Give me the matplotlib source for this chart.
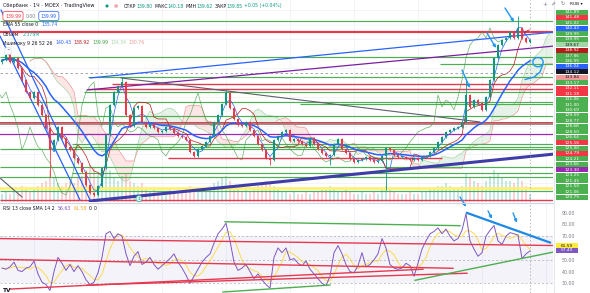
import matplotlib
matplotlib.use("Agg")
import matplotlib.pyplot as plt
from matplotlib.patches import Rectangle, Ellipse
import numpy as np
import pandas as pd

plt.rcParams['font.family'] = ['DejaVu Sans']

W, H = 590, 293

# hourly closes (one bar ~ 4 px)
closes = [136.38, 137.25, 136.03, 136.72, 134.99, 132.90, 130.82, 129.78, 130.82, 128.56,
          126.83, 124.57, 120.75, 122.49, 124.75, 122.84, 121.27, 120.75, 119.36, 118.49,
          116.93, 114.68, 113.29, 112.94, 114.50, 117.63, 123.36, 128.56, 130.82, 131.86,
          132.56, 126.83, 124.92, 128.04, 128.39, 125.61, 124.75, 125.27, 124.57, 123.88,
          124.05, 124.75, 124.40, 123.70, 123.18, 123.01, 122.49, 120.41, 119.71, 120.93,
          121.45, 122.14, 123.18, 125.61, 126.83, 128.74, 130.65, 128.04, 126.13, 125.09,
          124.92, 125.61, 124.22, 123.18, 121.79, 120.75, 119.36, 119.02, 122.49, 123.18,
          123.88, 124.22, 122.32, 122.66, 122.32, 121.79, 121.45, 122.84, 121.79, 120.93,
          120.23, 119.71, 119.88, 121.79, 122.66, 120.93, 120.23, 119.19, 118.67, 119.02,
          119.19, 119.54, 119.02, 118.67, 118.84, 119.71, 121.10, 120.75, 119.88, 119.54,
          119.54, 119.36, 119.02, 119.36, 119.02, 119.54, 119.71, 120.41, 121.10, 122.14,
          123.01, 123.88, 124.22, 124.57, 124.75, 125.61, 130.30, 128.22, 129.43, 128.91,
          127.70, 129.95, 132.90, 136.72, 138.98, 139.85, 140.20, 141.24, 140.20, 141.93,
          140.20, 139.50, 139.85]
volumes = [3, 4, 3, 5, 4, 6, 5, 4, 5, 6,
           7, 8, 12, 9, 7, 6, 7, 8, 7, 9,
           10, 12, 14, 13, 11, 12, 15, 12, 9, 8,
           10, 11, 8, 7, 6, 7, 5, 4, 5, 4,
           3, 4, 5, 4, 3, 4, 5, 6, 5, 4,
           4, 5, 6, 7, 8, 9, 10, 8, 6, 5,
           4, 5, 4, 5, 6, 7, 8, 7, 6, 5,
           4, 4, 3, 4, 3, 3, 4, 3, 4, 4,
           5, 5, 6, 5, 4, 4, 5, 4, 3, 3,
           4, 3, 3, 4, 3, 5, 6, 5, 4, 3,
           3, 3, 4, 3, 3, 4, 4, 5, 5, 6,
           6, 7, 6, 5, 5, 6, 11, 9, 8, 7,
           6, 8, 10, 12, 11, 9, 8, 8, 7, 9,
           8, 6, 3]
rsi_values = [43, 42, 44, 48, 41, 40, 43, 44, 49, 38,
              31, 29, 24, 40, 52, 47, 41, 46, 40, 45,
              40, 33, 29, 31, 39, 52, 72, 74, 68, 72,
              70, 55, 45, 53, 57, 46, 48, 52, 46, 42,
              45, 48, 51, 55, 48, 43, 37, 30, 36, 42,
              48, 52, 55, 64, 72, 76, 81, 66, 48, 41,
              43, 46, 40, 34, 38, 33, 29, 26, 52, 60,
              56, 60, 50, 51, 47, 45, 49, 42, 38, 34,
              30, 28, 36, 56, 62, 55, 46, 40, 39, 45,
              56, 44, 46, 50, 55, 68, 60, 46, 43, 42,
              43, 47, 45, 36, 47, 59, 66, 72, 74, 77,
              72, 76, 70, 66, 68, 75, 89, 66, 59, 53,
              56, 70, 75, 79, 66, 63, 70, 73, 72, 71,
              51, 55, 57.5]
# long wicks: bar -> (high, low)
wick_spikes = {12: (None, 116.0), 30: (133.4, None), 56: (131.2, None), 67: (None, 118.2),
               82: (None, 118.1), 96: (None, 113.8), 116: (132.9, None), 129: (144.0, None)}

# horizontal levels drawn on the chart
green_levels = [143.20, 136.90, 135.68, 133.48, 130.82, 129.14, 128.69, 126.71, 121.74,
                121.33, 120.98, 117.85, 116.81, 116.12, 113.64]
green_from = [0, 0, 110, 22, 21, 0, 75, 0, 18, 18, 0, 0, 18, 0, 0]
red_levels = [141.24, 132.16, 131.29, 125.49, 119.42, 112.07]
red_from = [0, 28, 22, 0, 42, 0]
red_to = [138, 138, 138, 138, 110, 138]
red_widths = [1.6, 1.0, 1.0, 1.4, 1.0, 1.0]
brown_level = 125.18
purple_level = 123.48
yellow_level = 114.07
cross_price = 134.12
cross_bar = 132

# trend lines (bar, price) -> (bar, price)
main_lines = [((22, 133.25), (138.25, 141.24), '#2962FF', 0.9),
              ((21.25, 131.17), (138.25, 138.81), '#7B1FA2', 0.9),
              ((29.75, 133.25), (119.5, 125.61), '#5D606B', 0.8),
              ((22, 111.90), (138.25, 120.06), '#3F3DA8', 2.2),
              ((-0.5, 140.54), (19.5, 112.07), '#2962FF', 0.9),
              ((-0.25, 145.06), (22, 112.07), '#2962FF', 0.9),
              ((-0.5, 115.89), (5, 112.59), '#5D606B', 0.8)]
main_arrows = [((115, 134.64), (117, 131.51)),
               ((121.25, 141.06), (123.5, 138.46)),
               ((125.75, 145.4), (128, 142.97))]
rsi_lines = [((-0.5, 67.95), (137.75, 62.1), '#E53950', 1.0),
             ((-0.5, 50.35), (112.75, 42.8), '#E53950', 1.0),
             ((2, 25.2), (105.25, 42.0), '#E53950', 1.0),
             ((21.25, 28.55), (116.25, 38.6), '#E53950', 1.0),
             ((55.75, 82.2), (114.5, 78.9), '#4CAF50', 1.0),
             ((55.25, 22.7), (82, 28.6), '#4CAF50', 1.0),
             ((103.25, 32.6), (139.5, 57.7), '#4CAF50', 1.0),
             ((116.25, 89.7), (137, 64.6), '#1E88E5', 1.6)]
rsi_arrows = [((114.5, 103.2), (116, 94.8)),
              ((121.5, 91.4), (122.5, 84.7)),
              ((127.75, 89.7), (128.75, 81.4))]

# right price scale tags
price_tags = ["141.89", "141.48", "141.02", "140.43", "139.99", "139.99", "139.67", "138.92",
              "137.86", "136.99", "136.04", "134.12", "133.84", "133.17", "132.11", "131.18",
              "131.06", "131.00", "130.69", "129.59", "128.77", "128.68", "128.50", "126.64",
              "125.16", "125.00", "124.79", "124.21", "123.66", "123.30", "123.25", "121.45",
              "121.50", "121.06", "120.79"]
G, R, B, LG, DR, K, P, PR = '#4CAF50', '#F23645', '#2962FF', '#A5D6A7', '#B71C1C', '#131722', '#9C27B0', '#EF9A9A'
tag_colors = [G, R, G, B, G, G, LG, DR, G, G, B, K, PR, G, R, R, G, G, G, G, G, G, G, G,
              R, G, R, G, G, P, G, G, G, G, G]

UP, DOWN = '#089981', '#F23645'
DARK, GRAY = '#131722', '#787B86'

n = len(closes)
idx = np.arange(n)
c = np.array(closes)
o = np.r_[c[0] - 0.4, c[:-1]]
hi = np.maximum(o, c) + 0.25
lo = np.minimum(o, c) - 0.25
for k, (h_, l_) in wick_spikes.items():
    if h_ is not None:
        hi[k] = h_
    if l_ is not None:
        lo[k] = l_
up = c >= o
cols = np.where(up, UP, DOWN)

fig = plt.figure(figsize=(W / 100, H / 100), dpi=100)
fig.patch.set_facecolor('white')

pane_split = 202
ax = fig.add_axes([0, (H - pane_split) / H, 553 / W, pane_split / H])
axr = fig.add_axes([0, 0, 553 / W, (H - pane_split - 1) / H])

XMIN, XMAX = -0.5, 137.75
YMIN, YMAX = 111.72, 146.79
for a in (ax, axr):
    a.set_xlim(XMIN, XMAX)
    a.set_xticks([])
    for s in a.spines.values():
        s.set_visible(False)
ax.set_ylim(YMIN, YMAX)
ax.set_yticks([])

# grid
for gx in np.arange(8, 138, 16):
    ax.axvline(gx, color='#F0F3FA', lw=0.6, zorder=0)
    axr.axvline(gx, color='#F0F3FA', lw=0.6, zorder=0)
for gy in [115, 120, 125, 130, 135, 140, 145]:
    ax.axhline(gy, color='#F0F3FA', lw=0.6, zorder=0)

# volume at the bottom of the price pane
vol_scale = 6.9 / max(volumes)
ax.bar(idx, np.array(volumes) * vol_scale, bottom=YMIN, width=0.6,
       color=np.where(up, '#9ED8CF', '#F7B3B9'), alpha=0.6, zorder=1)

# ichimoku (periods scaled to the coarse bars)
hs, ls, cs = pd.Series(hi), pd.Series(lo), pd.Series(c)
tenkan = (hs.rolling(2, min_periods=1).max() + ls.rolling(2, min_periods=1).min()) / 2
kijun = (hs.rolling(7, min_periods=1).max() + ls.rolling(7, min_periods=1).min()) / 2
span_a = ((tenkan + kijun) / 2).values
span_b = ((hs.rolling(13, min_periods=1).max() + ls.rolling(13, min_periods=1).min()) / 2).values
shift = 7
xs = idx + shift
ax.fill_between(xs, span_a, span_b, where=span_a >= span_b, color='#43A047', alpha=0.13,
                lw=0, interpolate=True, zorder=1)
ax.fill_between(xs, span_a, span_b, where=span_a < span_b, color='#F44336', alpha=0.13,
                lw=0, interpolate=True, zorder=1)
ax.plot(xs, span_a, color='#A5D6A7', lw=0.5, zorder=2)
ax.plot(xs, span_b, color='#EF9A9A', lw=0.5, zorder=2)
ax.plot(idx, tenkan, color='#2962FF', lw=0.5, zorder=3)
ax.plot(idx, kijun, color='#B71C1C', lw=0.5, zorder=3)
ax.plot(idx - shift, c, color='#43A047', lw=0.5, alpha=0.8, zorder=3)

# ema 55 (scaled)
ema = cs.ewm(span=16, adjust=False).mean()
ax.plot(idx, ema, color='#2962FF', lw=1.1, zorder=4)

# levels
for p, x0 in zip(green_levels, green_from):
    ax.hlines(p, x0 - 0.5, XMAX, color='#4CAF50', lw=0.85, zorder=2)
for p, x0, x1, lw in zip(red_levels, red_from, red_to, red_widths):
    ax.hlines(p, x0 - 0.5, x1, color='#E53950', lw=lw, zorder=2)
ax.axhline(brown_level, color='#A1887F', lw=1.4, zorder=2)
ax.axhline(purple_level, color='#9C27B0', lw=0.9, zorder=2)
ax.axhline(yellow_level, color='#FFF176', lw=2.0, zorder=2)
ax.axhline(cross_price, color='#9598A1', lw=0.6, ls=(0, (3, 3)), zorder=5)

# trend lines
for (x0, y0), (x1, y1), col, lw in main_lines:
    ax.plot([x0, x1], [y0, y1], color=col, lw=lw, zorder=5, solid_capstyle='round')

# candles
ax.vlines(idx, lo, hi, colors=cols, lw=0.6, zorder=6)
body = np.maximum(np.abs(c - o), 0.08)
ax.bar(idx, body, bottom=np.minimum(o, c), width=0.62, color=cols, zorder=6)

for (x0, y0), (x1, y1) in main_arrows:
    ax.annotate('', xy=(x1, y1), xytext=(x0, y0),
                arrowprops=dict(arrowstyle='-|>', color='#2196F3', lw=1.0,
                                mutation_scale=4, shrinkA=0, shrinkB=0), zorder=7)

# hand drawn loop near the last bars
ax.add_patch(Ellipse((134.0, 136.0), 2.6, 1.6, fill=False, ec='#2196F3', lw=1.0, zorder=7))
ax.plot([135.2, 134.5, 133.0, 130.8], [135.6, 134.3, 133.4, 133.0], color='#2196F3', lw=1.0, zorder=7)

# event marker
ax.text(34.25, 112.3, '1', fontsize=3.2, color='#00897B', ha='center', va='center', zorder=8,
        bbox=dict(boxstyle='circle,pad=0.25', fc='#E0F2F1', ec='#26A69A', lw=0.5))

ax.axvline(cross_bar, color='#9598A1', lw=0.5, ls=(0, (2, 3)), zorder=5)

# RSI pane
RV_MIN, RV_MAX = 21.85, 98.1
axr.set_ylim(RV_MIN, RV_MAX)
axr.axhspan(30, 70, color='#7E57C2', alpha=0.07, lw=0)
for lvl in (70, 50, 30):
    axr.axhline(lvl, color=GRAY, lw=0.5, ls=(0, (3, 3)), alpha=0.6)
rsi = pd.Series(rsi_values)
axr.plot(idx, rsi.rolling(4, min_periods=1).mean(), color='#FDD835', lw=0.6, zorder=3)
axr.plot(idx, rsi, color='#7E57C2', lw=0.7, zorder=4)
for (x0, y0), (x1, y1), col, lw in rsi_lines:
    axr.plot([x0, x1], [y0, y1], color=col, lw=lw, zorder=5)
for (x0, y0), (x1, y1) in rsi_arrows:
    axr.annotate('', xy=(x1, y1), xytext=(x0, y0), annotation_clip=False,
                 arrowprops=dict(arrowstyle='-|>', color='#2196F3', lw=1.0,
                                 mutation_scale=4, shrinkA=0, shrinkB=0))
axr.axvline(cross_bar, color='#9598A1', lw=0.5, ls=(0, (2, 3)))
axr.yaxis.tick_right()
axr.set_yticks([30, 40, 50, 70, 80, 90])
axr.set_yticklabels(['30.00', '40.00', '50.00', '70.00', '80.00', '90.00'])
axr.tick_params(axis='y', length=0, pad=6, labelsize=3.4, labelcolor=GRAY)

# overlay in pixel units for chrome and legends
ov = fig.add_axes([0, 0, 1, 1])
ov.set_xlim(0, W)
ov.set_ylim(H, 0)
ov.axis('off')
ov.patch.set_visible(False)
ov.plot([0, 553], [pane_split + 0.5, pane_split + 0.5], color='#D1D4DC', lw=0.8)
ov.plot([553.5, 553.5], [0, H], color='#E0E3EB', lw=0.6)

gap_y = (197 - 12) / (len(price_tags) - 1)
for k, (t, col) in enumerate(zip(price_tags, tag_colors)):
    yc = 12 + k * gap_y
    ov.add_patch(Rectangle((556, yc - 2.5), 32, 5, fc=col, ec='none'))
    tc = DARK if col in (LG, PR) else 'white'
    ov.text(572, yc, t, fontsize=3.1, color=tc, ha='center', va='center')

for v, txt, fc, tc in [(61.59, '61.59', '#FFEB3B', DARK), (57.49, '57.49', '#7E57C2', 'white')]:
    yc = 211.7 + (90 - v) * 1.193
    ov.add_patch(Rectangle((556, yc - 2.5), 22, 5, fc=fc, ec='none'))
    ov.text(567, yc, txt, fontsize=3.1, color=tc, ha='center', va='center')

ov.text(576, 4, 'RUB ▾', fontsize=3.2, color=DARK, ha='center', va='center')
ov.text(545, 4, '+', fontsize=4, color=GRAY, ha='center', va='center')
ov.text(554, 4, '↔', fontsize=3.6, color=GRAY, ha='center', va='center', rotation=45)
ov.text(563, 4, '↻', fontsize=3.6, color=GRAY, ha='center', va='center')


def chain(x, y, parts, size):
    t = ov.text(x, y, parts[0][0], color=parts[0][1], fontsize=size, va='center', ha='left',
                bbox=parts[0][3] if len(parts[0]) > 3 else None)
    for part in parts[1:]:
        s, col, gap = part[0], part[1], part[2]
        bb = part[3] if len(part) > 3 else None
        t = ov.annotate(s, xy=(1, 0.5), xycoords=t, xytext=(gap, 0), textcoords='offset points',
                        va='center', ha='left', color=col, fontsize=size, bbox=bb,
                        annotation_clip=False)
    return t


chain(3, 6, [("Сбербанк · 1Ч · MOEX · TradingView", DARK, 0)], 3.6)
ov.scatter([107, 116], [6, 6], s=[5, 9], c=['#089981', '#F7C6CB'], edgecolors='none')
ov.text(116, 6, '=', fontsize=2.6, color=R, ha='center', va='center')
chain(124, 6, [("ОТКР", DARK, 0), ("139.80", UP, 0), ("МАКС", DARK, 1.2), ("140.18", UP, 0),
               ("МИН", DARK, 1.2), ("139.62", UP, 0), ("ЗАКР", DARK, 1.2), ("139.85", UP, 0),
               ("+0.05 (+0.04%)", UP, 1.2)], 3.3)
chain(5, 16, [("139.99", R, 0, dict(boxstyle='round,pad=0.45', fc='white', ec=R, lw=0.5)),
              ("0.00", GRAY, 3.5),
              ("139.99", B, 3.5, dict(boxstyle='round,pad=0.45', fc='white', ec=B, lw=0.5))], 3.3)
chain(3, 25, [("EMA 55 close 0", DARK, 0), ("135.74", B, 2.5)], 3.3)
chain(3, 34, [("Объём", DARK, 0), ("2.378M", '#26A69A', 2.5)], 3.3)
chain(3, 43, [("Ишимоку 9 26 52 26", DARK, 0), ("140.43", B, 2.5), ("138.92", DR, 1.5),
              ("139.99", '#43A047', 1.5), ("134.34", '#A5D6A7', 1.5), ("130.76", '#EF9A9A', 1.5)], 3.3)
ov.text(8, 51, '^', fontsize=3.2, color=DARK, ha='center', va='center',
        bbox=dict(boxstyle='round,pad=0.3', fc='white', ec='#D1D4DC', lw=0.4))
chain(3, 208, [("RSI 13 close SMA 14 2", DARK, 0), ("56.63", '#7E57C2', 2.5),
               ("61.58", '#F9A825', 1.5), ("0", DARK, 1.5), ("0", DARK, 1.5)], 3.3)
ov.text(3, 290, 'TV', fontsize=4.2, color=DARK, fontweight='bold', ha='left', va='center')

fig.savefig('out.png', dpi=100, facecolor='white')
